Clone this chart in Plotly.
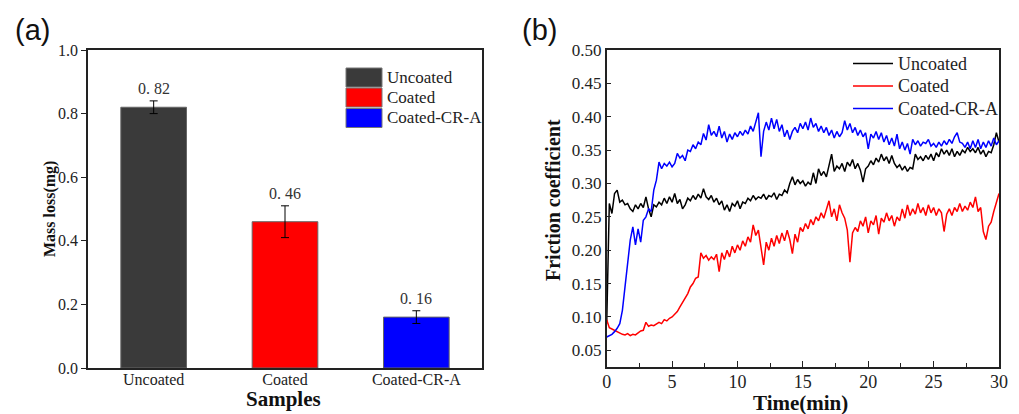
import numpy as np
import plotly.graph_objects as go

# ---------------- Panel (a) data ----------------
samples = ["Uncoated", "Coated", "Coated-CR-A"]
mass_loss = [0.82, 0.46, 0.16]
mass_err = [0.02, 0.05, 0.02]
bar_colors = ["#3a3a3a", "#ff0000", "#0000ff"]
value_labels = ["0. 82", "0. 46", "0. 16"]

# ---------------- Panel (b) data (sampled every 0.2 min) ----------------
uncoated_mu = [
    0.090, 0.270, 0.255, 0.285, 0.290, 0.272, 0.275, 0.268, 0.270, 0.262,
    0.258, 0.268, 0.262, 0.270, 0.264, 0.280, 0.262, 0.250, 0.268, 0.265,
    0.272, 0.268, 0.278, 0.270, 0.280, 0.272, 0.285, 0.270, 0.276, 0.262,
    0.268, 0.278, 0.274, 0.282, 0.276, 0.284, 0.278, 0.292, 0.280, 0.276,
    0.282, 0.272, 0.278, 0.268, 0.274, 0.260, 0.268, 0.258, 0.270, 0.266,
    0.274, 0.262, 0.272, 0.270, 0.278, 0.274, 0.282, 0.276, 0.280, 0.278,
    0.284, 0.276, 0.282, 0.280, 0.286, 0.276, 0.284, 0.282, 0.290, 0.286,
    0.300, 0.310, 0.298, 0.306, 0.300, 0.304, 0.296, 0.302, 0.298, 0.316,
    0.300, 0.322, 0.312, 0.318, 0.310, 0.328, 0.344, 0.318, 0.326, 0.322,
    0.330, 0.318, 0.332, 0.326, 0.336, 0.322, 0.330, 0.320, 0.302, 0.322,
    0.326, 0.334, 0.328, 0.338, 0.332, 0.344, 0.334, 0.340, 0.330, 0.342,
    0.330, 0.324, 0.328, 0.320, 0.326, 0.318, 0.324, 0.322, 0.344, 0.336,
    0.340, 0.334, 0.342, 0.336, 0.344, 0.334, 0.346, 0.340, 0.352, 0.344,
    0.350, 0.342, 0.352, 0.340, 0.348, 0.342, 0.350, 0.346, 0.354, 0.348,
    0.352, 0.346, 0.354, 0.344, 0.350, 0.340, 0.348, 0.346, 0.358, 0.376,
    0.362,
]
coated_mu = [
    0.096, 0.084, 0.082, 0.080, 0.077, 0.076, 0.074, 0.073, 0.075, 0.072,
    0.074, 0.073, 0.076, 0.079, 0.080, 0.092, 0.086, 0.088, 0.087, 0.090,
    0.092, 0.090, 0.096, 0.094, 0.098, 0.100, 0.104, 0.108, 0.115, 0.122,
    0.128, 0.135, 0.145, 0.150, 0.158, 0.160, 0.196, 0.188, 0.192, 0.185,
    0.190, 0.186, 0.194, 0.168, 0.196, 0.186, 0.200, 0.190, 0.206, 0.196,
    0.208, 0.200, 0.214, 0.206, 0.220, 0.212, 0.238, 0.222, 0.230, 0.205,
    0.178, 0.212, 0.200, 0.218, 0.206, 0.222, 0.210, 0.226, 0.214, 0.230,
    0.216, 0.195, 0.224, 0.212, 0.234, 0.228, 0.240, 0.232, 0.246, 0.238,
    0.250, 0.244, 0.256, 0.248, 0.262, 0.274, 0.250, 0.262, 0.244, 0.268,
    0.256, 0.248, 0.230, 0.182, 0.226, 0.234, 0.228, 0.244, 0.236, 0.250,
    0.226, 0.244, 0.238, 0.252, 0.224, 0.248, 0.242, 0.256, 0.244, 0.252,
    0.236, 0.250, 0.244, 0.262, 0.248, 0.268, 0.252, 0.262, 0.254, 0.270,
    0.256, 0.264, 0.252, 0.268, 0.256, 0.264, 0.252, 0.262, 0.256, 0.228,
    0.254, 0.262, 0.252, 0.264, 0.258, 0.270, 0.258, 0.266, 0.260, 0.272,
    0.264, 0.280, 0.258, 0.264, 0.228, 0.216, 0.236, 0.242, 0.258, 0.270,
    0.285,
]
coated_cra_mu = [
    0.070, 0.072, 0.074, 0.078, 0.083, 0.090, 0.110, 0.145, 0.185, 0.215,
    0.235, 0.208, 0.232, 0.212, 0.245, 0.250, 0.262, 0.258, 0.290, 0.305,
    0.332, 0.322, 0.330, 0.326, 0.332, 0.325, 0.330, 0.345, 0.338, 0.342,
    0.334, 0.350, 0.348, 0.358, 0.352, 0.362, 0.358, 0.375, 0.365, 0.388,
    0.372, 0.378, 0.370, 0.386, 0.368, 0.378, 0.362, 0.374, 0.366, 0.376,
    0.370, 0.378, 0.372, 0.380, 0.374, 0.386, 0.378, 0.392, 0.406, 0.340,
    0.378, 0.392, 0.380, 0.398, 0.382, 0.396, 0.378, 0.388, 0.370, 0.380,
    0.366, 0.378, 0.384, 0.376, 0.390, 0.382, 0.392, 0.380, 0.398, 0.384,
    0.390, 0.378, 0.386, 0.376, 0.384, 0.372, 0.380, 0.368, 0.378, 0.370,
    0.376, 0.394, 0.380, 0.390, 0.376, 0.384, 0.372, 0.380, 0.370, 0.376,
    0.352, 0.374, 0.368, 0.378, 0.366, 0.376, 0.362, 0.372, 0.358, 0.368,
    0.356, 0.374, 0.352, 0.362, 0.350, 0.360, 0.344, 0.366, 0.358, 0.364,
    0.356, 0.362, 0.360, 0.366, 0.356, 0.360, 0.354, 0.362, 0.356, 0.364,
    0.358, 0.366, 0.360, 0.370, 0.376, 0.362, 0.360, 0.354, 0.362, 0.352,
    0.364, 0.354, 0.366, 0.352, 0.362, 0.354, 0.364, 0.356, 0.368, 0.358,
    0.364,
]
line_names = ["Uncoated", "Coated", "Coated-CR-A"]
line_colors = ["#000000", "#ff0000", "#0000ff"]

time_min = np.linspace(0, 30, len(uncoated_mu))

W, H = 1019, 414
SERIF = "Liberation Serif, Times New Roman, serif"
SANS = "Liberation Sans, Arial, sans-serif"


def px(x):
    return x / W


def py(y):
    return 1 - y / H


fig = go.Figure()

# Bars
fig.add_trace(go.Bar(
    x=samples, y=mass_loss, width=0.5,
    marker=dict(color=bar_colors, line=dict(color="#666666", width=1)),
    error_y=dict(type="data", array=mass_err, color="#000000", thickness=1, width=4),
    xaxis="x", yaxis="y", showlegend=False,
))

# Lines
for vals, name, col in zip([uncoated_mu, coated_mu, coated_cra_mu], line_names, line_colors):
    fig.add_trace(go.Scatter(
        x=time_min, y=vals, mode="lines", name=name,
        line=dict(color=col, width=1.5), xaxis="x2", yaxis="y2", showlegend=False,
    ))

shapes = []
annotations = []

# value labels above error bars
for s, v, e, lab in zip(samples, mass_loss, mass_err, value_labels):
    annotations.append(dict(x=s, y=v + e, xref="x", yref="y", text=lab, showarrow=False,
                            yshift=12, font=dict(family=SERIF, size=16, color="#333333")))

# Panel (a) legend (manual swatches)
leg_a_rows = [77.5, 97.5, 118]
for name, col, yc in zip(samples, bar_colors, leg_a_rows):
    shapes.append(dict(type="rect", xref="paper", yref="paper",
                       x0=px(346), x1=px(382), y0=py(yc + 9.5), y1=py(yc - 9.5),
                       fillcolor=col, line=dict(color="#777777", width=1)))
    annotations.append(dict(x=px(385), y=py(yc), xref="paper", yref="paper", text=name,
                            showarrow=False, xanchor="left", yanchor="middle",
                            font=dict(family=SERIF, size=17, color="#222222")))

# Panel (b) legend (manual lines)
leg_b_rows = [63.5, 86, 108.5]
for name, col, yc in zip(line_names, line_colors, leg_b_rows):
    shapes.append(dict(type="line", xref="paper", yref="paper",
                       x0=px(853), x1=px(893), y0=py(yc), y1=py(yc),
                       line=dict(color=col, width=1.5)))
    annotations.append(dict(x=px(896), y=py(yc), xref="paper", yref="paper", text=name,
                            showarrow=False, xanchor="left", yanchor="middle",
                            font=dict(family=SERIF, size=18, color="#222222")))

# Panel labels
annotations.append(dict(x=px(13), y=py(30), xref="paper", yref="paper", text="(a)",
                        showarrow=False, xanchor="left", yanchor="middle",
                        font=dict(family=SANS, size=29, color="#111111")))
annotations.append(dict(x=px(520), y=py(30), xref="paper", yref="paper", text="(b)",
                        showarrow=False, xanchor="left", yanchor="middle",
                        font=dict(family=SANS, size=29, color="#111111")))

# Axis titles
annotations.append(dict(x=px(283), y=py(399), xref="paper", yref="paper", text="<b>Samples</b>",
                        showarrow=False, xanchor="center", yanchor="middle",
                        font=dict(family=SERIF, size=21, color="#111111")))
annotations.append(dict(x=px(50), y=py(209), xref="paper", yref="paper", text="<b>Mass loss(mg)</b>",
                        showarrow=False, xanchor="center", yanchor="middle", textangle=-90,
                        font=dict(family=SERIF, size=16, color="#111111")))
annotations.append(dict(x=px(800), y=py(403), xref="paper", yref="paper", text="<b>Time(min)</b>",
                        showarrow=False, xanchor="center", yanchor="middle",
                        font=dict(family=SERIF, size=21, color="#111111")))
annotations.append(dict(x=px(553), y=py(200), xref="paper", yref="paper", text="<b>Friction coefficient</b>",
                        showarrow=False, xanchor="center", yanchor="middle", textangle=-90,
                        font=dict(family=SERIF, size=20, color="#111111")))

axis_common = dict(showline=True, mirror=True, linecolor="#222222", linewidth=1.5,
                   showgrid=False, zeroline=False, automargin=False)

fig.update_layout(
    template="none",
    width=W, height=H,
    margin=dict(l=0, r=0, t=0, b=0, pad=0, autoexpand=False),
    paper_bgcolor="white", plot_bgcolor="white",
    showlegend=False,
    shapes=shapes, annotations=annotations,
    xaxis=dict(domain=[px(88), px(482)], range=[-0.5, 2.5], ticks="", ticklabelstandoff=-4,
               tickfont=dict(family=SERIF, size=16, color="#222222"), anchor="y", **axis_common),
    yaxis=dict(domain=[py(368), py(50)], range=[0, 1.0], tickvals=[0, 0.2, 0.4, 0.6, 0.8, 1.0],
               ticktext=["0.0", "0.2", "0.4", "0.6", "0.8", "1.0"], ticks="outside", ticklen=5,
               tickcolor="#222222", tickfont=dict(family=SERIF, size=16, color="#222222"),
               anchor="x", **axis_common),
    xaxis2=dict(domain=[px(606.7), px(999)], range=[0, 30], tickvals=[0, 5, 10, 15, 20, 25, 30],
                ticks="inside", ticklen=6, tickcolor="#222222", ticklabelstandoff=-2,
                minor=dict(tickvals=[2.5, 7.5, 12.5, 17.5, 22.5, 27.5], ticks="inside", ticklen=4,
                           tickcolor="#222222"),
                tickfont=dict(family=SERIF, size=18, color="#222222"), anchor="y2", **axis_common),
    yaxis2=dict(domain=[py(367), py(50)], range=[0.025, 0.50],
                tickvals=[0.05, 0.10, 0.15, 0.20, 0.25, 0.30, 0.35, 0.40, 0.45, 0.50],
                ticktext=["0.05", "0.10", "0.15", "0.20", "0.25", "0.30", "0.35", "0.40", "0.45", "0.50"],
                ticks="inside", ticklen=5, tickcolor="#222222",
                tickfont=dict(family=SERIF, size=17, color="#222222"), anchor="x2", **axis_common),
)

fig.write_html("out.html", config={"displayModeBar": False},
               post_script="document.body.style.margin='0px';")
